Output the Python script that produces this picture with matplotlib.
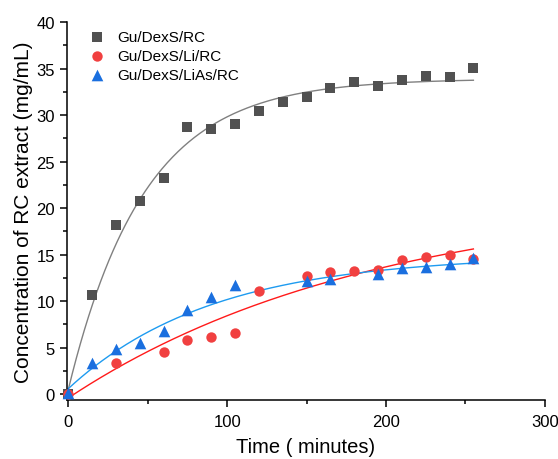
import numpy as np
import matplotlib
matplotlib.use("Agg")
import matplotlib.pyplot as plt
from matplotlib.ticker import MultipleLocator

plt.rcParams['font.family'] = ['Liberation Sans', 'DejaVu Sans']

# sampling times (min)
t_rc = [0, 15, 30, 45, 60, 75, 90, 105, 120, 135, 150, 165, 180, 195, 210, 225, 240, 255]
c_rc = [0.0, 10.7, 18.2, 20.75, 23.25, 28.7, 28.5, 29.0, 30.45, 31.4, 31.9, 32.9,
        33.6, 33.1, 33.8, 34.2, 34.1, 35.1]

t_li = [0, 30, 60, 75, 90, 105, 120, 150, 165, 180, 195, 210, 225, 240, 255]
c_li = [0.0, 3.4, 4.5, 5.84, 6.12, 6.55, 11.13, 12.66, 13.1, 13.2, 13.35, 14.4, 14.7, 15.0, 14.5]

t_lias = [0, 15, 30, 45, 60, 75, 90, 105, 150, 165, 195, 210, 225, 240, 255]
c_lias = [0.1, 3.37, 4.83, 5.55, 6.8, 9.09, 10.5, 11.7, 12.2, 12.4, 12.95, 13.6, 13.7, 14.0, 14.6]

labels = ['Gu/DexS/RC', 'Gu/DexS/Li/RC', 'Gu/DexS/LiAs/RC']

# first-order fit parameters: y = y0 + A*(1 - exp(-k*t))
fit_rc = (0.5, 33.4, 0.021)
fit_li = (-0.4, 21.8, 0.0052)
fit_lias = (0.6, 14.36, 0.011)


def first_order(t, y0, A, k):
    return y0 + A * (1 - np.exp(-k * t))


fig = plt.figure(figsize=(5.58, 4.60), dpi=100)
ax = fig.add_axes([0.1195, 0.129, 0.857, 0.821])

tt = np.linspace(0, 255, 300)
ax.plot(tt, first_order(tt, *fit_rc), color='#808080', lw=1.0, zorder=2)
ax.plot(tt, first_order(tt, *fit_li), color='#FF1A1A', lw=1.0, zorder=2)
ax.plot(tt, first_order(tt, *fit_lias), color='#1E9BF0', lw=1.0, zorder=2)

ax.scatter(t_rc, c_rc, marker='s', s=42, color='#515151', label=labels[0],
           zorder=3, clip_on=False, linewidths=0)
ax.scatter(t_li, c_li, marker='o', s=56, color='#F14040', label=labels[1],
           zorder=4, clip_on=False, linewidths=0)
ax.scatter(t_lias, c_lias, marker='^', s=70, color='#1A6FDF', label=labels[2],
           zorder=5, clip_on=False, linewidths=0)

ax.set_xlim(-1, 300)
ax.set_ylim(-0.58, 40)
ax.xaxis.set_major_locator(MultipleLocator(100))
ax.xaxis.set_minor_locator(MultipleLocator(50))
ax.yaxis.set_major_locator(MultipleLocator(5))
ax.yaxis.set_minor_locator(MultipleLocator(2.5))

for s in ['top', 'right']:
    ax.spines[s].set_visible(False)
for s in ['left', 'bottom']:
    ax.spines[s].set_linewidth(1.1)
ax.tick_params(which='major', direction='out', length=5, width=1.1, labelsize=12)
ax.tick_params(which='minor', direction='out', length=3, width=1.1)
ax.tick_params(axis='x', pad=5)

ax.set_xlabel('Time ( minutes)', fontsize=14.5, labelpad=6)
ax.set_ylabel('Concentration of RC extract (mg/mL)', fontsize=15, labelpad=2)

ax.legend(loc='upper left', bbox_to_anchor=(0.01, 1.008), frameon=False, fontsize=11,
          handletextpad=0.3, labelspacing=0.34, borderaxespad=0.3)

fig.savefig('out.png', dpi=100)
